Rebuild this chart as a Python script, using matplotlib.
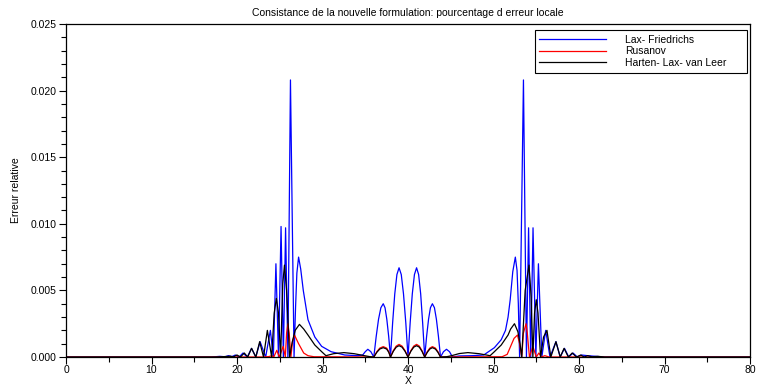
import matplotlib
matplotlib.use("Agg")
import matplotlib.pyplot as plt
from matplotlib.ticker import MultipleLocator, FormatStrFormatter

plt.rcParams['font.family'] = ['Liberation Sans', 'DejaVu Sans']

# Lax-Friedrichs (blue)
lf_x = [0, 17, 18, 18.6, 19, 19.4, 19.8, 20.25, 20.7, 21.2, 21.7, 22.2, 22.7, 23.35, 23.9,
        24.25, 24.55, 24.85, 25.15, 25.42, 25.68, 25.95, 26.25, 26.67, 26.85, 27.0, 27.2,
        27.45, 27.75, 28.3, 29.1, 29.9, 31.0, 32.6, 34.1, 34.7, 35.0, 35.3, 35.65, 36.0,
        36.275, 36.55, 36.825, 37.1, 37.31, 37.52, 37.74, 37.95,
        38.2, 38.45, 38.7, 38.95, 39.21, 39.47, 39.74, 40.0,
        40.25, 40.5, 40.75, 41.0, 41.24, 41.48, 41.71, 41.95,
        42.17, 42.4, 42.62, 42.85, 43.09, 43.32, 43.56, 43.8,
        44.15, 44.5, 44.85, 45.2, 46.0, 47.5, 48.85, 50.1, 50.9, 51.4, 51.7, 51.95, 52.25,
        52.55, 52.75, 52.9, 53.05, 53.5, 53.85, 54.1, 54.35, 54.62, 54.95, 55.25, 55.65,
        56.1, 56.6, 57.3, 57.8, 58.3, 58.8, 59.3, 59.8, 60.3, 61.0, 62.0, 63.0, 80]
lf_y = [0, 0, 0.00005, 0.00002, 0.0001, 0.00003, 0.00015, 0, 0.0003, 0, 0.00065, 0, 0.00115, 0, 0.002,
        0, 0.0070, 0, 0.0098, 0, 0.0097, 0, 0.0208, 0, 0.0038, 0.0063, 0.0075,
        0.0066, 0.0050, 0.0028, 0.0015, 0.0008, 0.0004, 0.00015, 0.0001, 0.00015, 0.0004, 0.00058, 0.0004, 0,
        0.00153, 0.00283, 0.0037, 0.0040, 0.0037, 0.00283, 0.00153, 0,
        0.00257, 0.00474, 0.00619, 0.0067, 0.00619, 0.00474, 0.00257, 0,
        0.00257, 0.00474, 0.00619, 0.0067, 0.00619, 0.00474, 0.00257, 0,
        0.00153, 0.00283, 0.0037, 0.0040, 0.0037, 0.00283, 0.00153, 0,
        0.0004, 0.00058, 0.0004, 0, 0.00008, 0.0001, 0.00015, 0.0007, 0.0013, 0.0020, 0.0030, 0.0043, 0.0064,
        0.0075, 0.0065, 0.0040, 0, 0.0208, 0, 0.0097, 0, 0.0097, 0, 0.0070, 0,
        0.0020, 0, 0.00115, 0, 0.00065, 0, 0.0003, 0, 0.00015, 0.0001, 0.00005, 0, 0]

# Rusanov (red)
rus_x = [0, 23.0, 23.7, 24.1, 24.3, 24.65, 24.95, 25.4, 25.65, 25.8, 25.95, 26.1, 26.3, 26.5,
         26.72, 27.2, 27.8, 28.3, 29.0, 35.5, 36.0, 36.35, 36.7, 37.1, 37.5, 37.75, 37.95,
         38.28, 38.62, 38.95, 39.3, 39.65, 40.0, 40.33, 40.67, 41.0, 41.32, 41.63, 41.95,
         42.25, 42.55, 42.85, 43.2, 43.5, 43.8, 51.0, 51.6, 52.0, 52.4, 52.8, 53.05, 53.3,
         53.5, 53.8, 53.95, 54.2, 54.6, 55.0, 55.3, 55.6, 56.0, 56.5, 80]
rus_y = [0, 0, 0.00003, 0.0001, 0, 0.0005, 0, 0.0008, 0, 0.0018, 0.0025, 0.0018, 0, 0.0012,
         0.00165, 0.0010, 0.0003, 0.0001, 0.00002, 0, 0, 0.0004, 0.00067, 0.00078, 0.00067, 0.0004, 0,
         0.00048, 0.00082, 0.00095, 0.00082, 0.00048, 0, 0.00048, 0.00082, 0.00095, 0.00082, 0.00048, 0,
         0.0004, 0.00067, 0.00078, 0.00067, 0.0004, 0, 0.00002, 0.0002, 0.0008, 0.0014, 0.00165, 0.0010, 0,
         0.0018, 0.0025, 0.0018, 0, 0.0008, 0, 0.0003, 0, 0.0001, 0, 0]

# Harten-Lax-van Leer (black)
hll_x = [0, 17.5, 18.5, 19.2, 19.6, 20.0, 20.4, 20.85, 21.25, 21.7, 22.2, 22.65, 23.1, 23.55,
         24.05, 24.35, 24.6, 24.85, 25.1, 25.35, 25.55, 25.8, 26.15, 26.45, 26.8, 27.3, 27.8,
         28.3, 29.1, 29.9, 30.4, 31.3, 32.5, 33.7, 34.9, 35.6, 36.0, 36.35, 36.7, 37.1, 37.5,
         37.75, 37.95, 38.28, 38.62, 38.95, 39.3, 39.65, 40.0, 40.33, 40.67, 41.0, 41.32,
         41.63, 41.95, 42.25, 42.55, 42.85, 43.2, 43.5, 43.8, 44.5, 45.1, 46.0, 47.0, 48.3,
         49.6, 50.1, 50.9, 51.7, 52.0, 52.45, 52.85, 53.1, 53.3, 53.7, 54.15, 54.4, 54.6,
         54.8, 55.0, 55.2, 55.5, 55.85, 56.25, 56.7, 57.3, 57.8, 58.25, 58.75, 59.2, 59.7,
         60.2, 60.6, 61.0, 61.5, 62.2, 63.0, 80]
hll_y = [0, 0, 0.00003, 0.00006, 0.00002, 0.00015, 0, 0.0003, 0, 0.00065, 0, 0.00115, 0, 0.0020,
         0, 0.0033, 0.0044, 0.0033, 0, 0.0055, 0.0069, 0.0050, 0, 0.0011, 0.0020, 0.00245, 0.0021,
         0.00165, 0.0009, 0.0004, 0.0001, 0.00025, 0.00033, 0.00025, 0.0001, 0.00002, 0, 0.00035, 0.0006, 0.0007, 0.0006,
         0.00035, 0, 0.00043, 0.00074, 0.00085, 0.00074, 0.00043, 0, 0.00043, 0.00074, 0.00085, 0.00074,
         0.00043, 0, 0.00035, 0.0006, 0.0007, 0.0006, 0.00035, 0, 0.00002, 0.0001, 0.00026, 0.00033, 0.00025,
         0.0001, 0.0004, 0.0009, 0.00165, 0.0021, 0.0025, 0.0019, 0.0010, 0, 0.0050, 0.0069, 0.0045, 0,
         0.0033, 0.0043, 0.0033, 0, 0.0015, 0.0020, 0, 0.00115, 0, 0.00065, 0, 0.0003, 0,
         0.00015, 0, 0.0001, 0.00002, 0.00005, 0, 0]

labels = ['Lax- Friedrichs', 'Rusanov', 'Harten- Lax- van Leer']
title = 'Consistance de la nouvelle formulation: pourcentage d erreur locale'

fig = plt.figure(figsize=(7.57, 3.86), dpi=100)
ax = fig.add_axes([0.0872, 0.0751, 0.9036, 0.8627])

ax.plot(lf_x, lf_y, color='#0000ff', lw=0.9, label=labels[0])
ax.plot(rus_x, rus_y, color='#ff0000', lw=0.9, label=labels[1])
ax.plot(hll_x, hll_y, color='black', lw=0.9, label=labels[2])

ax.set_xlim(0, 80)
ax.set_ylim(0, 0.025)
ax.xaxis.set_major_locator(MultipleLocator(10))
ax.xaxis.set_minor_locator(MultipleLocator(5))
ax.yaxis.set_major_locator(MultipleLocator(0.005))
ax.yaxis.set_minor_locator(MultipleLocator(0.001))
ax.yaxis.set_major_formatter(FormatStrFormatter('%.3f'))
ax.tick_params(which='both', direction='out', labelsize=7.5, width=0.8)
ax.tick_params(which='major', length=5)
ax.tick_params(which='minor', length=3.5)
ax.tick_params(axis='x', pad=0.5)
ax.tick_params(axis='y', pad=2)
for s in ax.spines.values():
    s.set_linewidth(0.9)

ax.set_title(title, fontsize=7.5, pad=6)
ax.set_xlabel('X', fontsize=7.5, labelpad=1)
ax.set_ylabel('Erreur relative', fontsize=7.5, labelpad=7)

leg = ax.legend(loc='upper left', bbox_to_anchor=(0.685, 0.859, 0.31, 0.123), mode='expand',
                fontsize=7.5, handlelength=6.4, handletextpad=1.8, labelspacing=0.15,
                borderpad=0.45, fancybox=False, framealpha=1, borderaxespad=0)
leg.get_frame().set_edgecolor('black')
leg.get_frame().set_linewidth(0.8)

fig.savefig('out.png', dpi=100)
